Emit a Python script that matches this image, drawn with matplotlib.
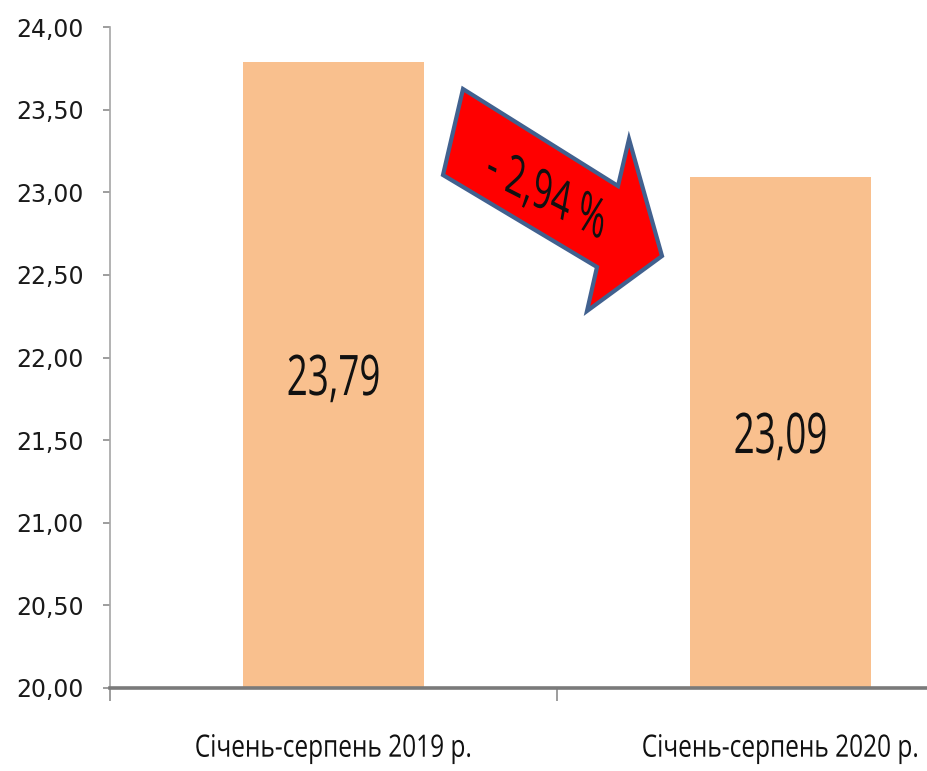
import numpy as np
import matplotlib
matplotlib.use("Agg")
from matplotlib import pyplot as plt
from matplotlib import ticker
from matplotlib import patheffects as pe
from matplotlib.transforms import Affine2D
from matplotlib.patches import Polygon

# Дані
categories = ['Січень-серпень 2019 р.', 'Січень-серпень 2020 р.']
values = [23.79, 23.09]
value_labels = ['23,79', '23,09']
change_label = '- 2,94 %'
y_ticks = [20.0, 20.5, 21.0, 21.5, 22.0, 22.5, 23.0, 23.5, 24.0]

font = ['Open Sans', 'DejaVu Sans']


class Stretch(pe.AbstractPathEffect):
    """Витягує текст по вертикалі (вузький шрифт оригіналу), за потреби з нахилом."""
    def __init__(self, sx=1.0, sy=1.0, skew=0.0, center=False):
        super().__init__()
        self.sx, self.sy, self.skew, self.center = sx, sy, skew, center

    def draw_path(self, renderer, gc, tpath, affine, rgbFace=None):
        ext = tpath.get_extents()
        cx = (ext.x0 + ext.x1) / 2
        cy = (ext.y0 + ext.y1) / 2 if self.center else 0
        pre = (Affine2D().translate(-cx, -cy).scale(self.sx, self.sy)
               .skew_deg(0, self.skew).translate(cx, cy))
        renderer.draw_path(gc, tpath, pre + affine, rgbFace)


fig = plt.figure(figsize=(9.27, 7.71), dpi=100)
# вісь виходить за правий край рисунка, як у вихідному зображенні
ax = fig.add_axes([110 / 927, 83 / 771, 894 / 927, 661 / 771])

x = np.arange(len(categories))
ax.bar(x, [v - 20 for v in values], bottom=20, width=0.405, color='#f9c08e', zorder=2)

ax.set_xlim(-0.5, 1.5)
ax.set_ylim(20, 24)
ax.set_yticks(y_ticks)
ax.yaxis.set_major_formatter(ticker.FuncFormatter(lambda v, p: f"{v:.2f}".replace('.', ',')))
ax.tick_params(axis='y', length=5, width=1.2, color='#8c8c8c', pad=14,
               labelsize=17, labelcolor='#1a1a1a')
ax.set_xticks(x)
ax.set_xticklabels(categories, family=font, fontsize=17.6, color='#111111')
for t in ax.get_xticklabels():
    t.set_path_effects([Stretch(sy=1.26)])
ax.set_xticks([-0.5, 0.5, 1.5], minor=True)
ax.tick_params(axis='x', which='major', length=0, pad=36.5)
ax.tick_params(axis='x', which='minor', length=9, width=1.2, color='#8c8c8c')

for s in ['top', 'right']:
    ax.spines[s].set_visible(False)
ax.spines['left'].set_color('#a6a6a6')
ax.spines['left'].set_linewidth(1.2)
ax.spines['bottom'].set_color('#7a7a7a')
ax.spines['bottom'].set_linewidth(2.6)
ax.spines['bottom'].set_zorder(3)

# підписи значень у стовпцях (базова лінія тексту)
label_y = [21.773, 21.422]
for xi, ly, t in zip(x, label_y, value_labels):
    ax.text(xi, ly, t, ha='center', va='baseline', family=font, fontsize=26.5,
            color='#111111', path_effects=[Stretch(sy=1.52)])

# стрілка зміни: контур у пікселях зображення (від лівого верхнього кута)
arrow_px = [(463, 89), (618, 186), (629, 139), (662, 256), (587, 311), (597, 267), (443, 175)]
arrow_xy = [(X / 927, 1 - Y / 771) for X, Y in arrow_px]
fig.patches.append(Polygon(arrow_xy, closed=True, facecolor='#ff0000', edgecolor='#41618f',
                           linewidth=3, joinstyle='miter', transform=fig.transFigure, zorder=5))
fig.text(546 / 927, 1 - 196 / 771, change_label, rotation=-10, ha='center', va='center',
         family=font, fontsize=26, color='#111111', zorder=6,
         path_effects=[Stretch(sx=0.96, sy=1.5, skew=-17, center=True)])

plt.savefig('out.png', dpi=100)
